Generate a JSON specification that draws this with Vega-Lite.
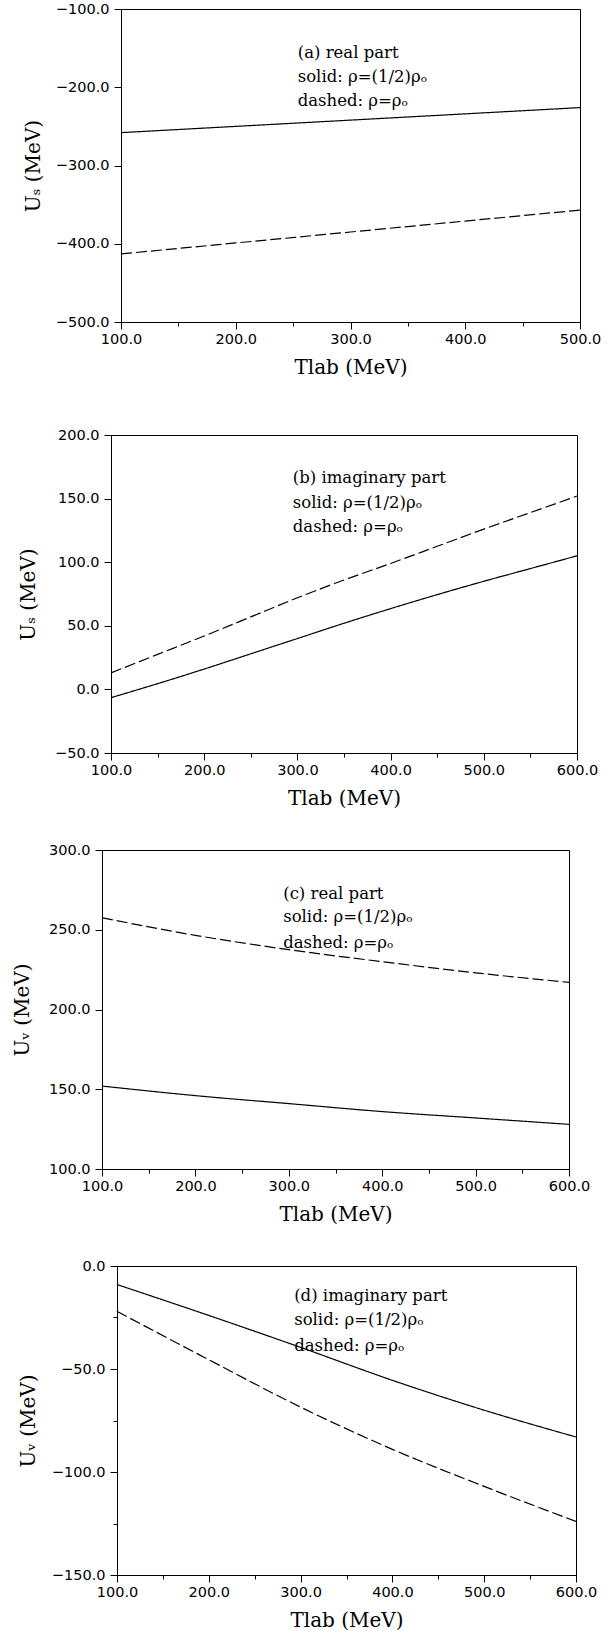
{
  "$schema": "https://vega.github.io/schema/vega-lite/v6.json",
  "padding": {"left": 0, "top": 0, "right": 0, "bottom": 0},
  "background": "white",
  "config": {
    "view": {"stroke": "black", "strokeWidth": 1},
    "axis": {
      "labelFont": "DejaVu Sans", "labelFontSize": 14.5, "labelColor": "black",
      "titleFont": "DejaVu Serif", "titleFontSize": 20, "titleFontWeight": "normal", "titleColor": "black",
      "domainColor": "black", "tickColor": "black", "grid": false,
      "labelFlush": false, "labelOverlap": false, "format": ".1f"
    },
    "axisX": {"labelPadding": 3, "titlePadding": 12},
    "axisY": {"labelPadding": 5, "minExtent": 66, "maxExtent": 66},
    "line": {"interpolate": "monotone", "color": "black", "strokeWidth": 1.2, "clip": true},
    "text": {"font": "DejaVu Serif", "fontSize": 16.5, "color": "black", "align": "left", "baseline": "middle"}
  },
  "datasets": {
    "curves": [
      {"panel": "a", "density": "half", "T": 100, "U": -258},
      {"panel": "a", "density": "half", "T": 200, "U": -250},
      {"panel": "a", "density": "half", "T": 300, "U": -242},
      {"panel": "a", "density": "half", "T": 400, "U": -234},
      {"panel": "a", "density": "half", "T": 500, "U": -226},
      {"panel": "a", "density": "full", "T": 100, "U": -413},
      {"panel": "a", "density": "full", "T": 200, "U": -399},
      {"panel": "a", "density": "full", "T": 300, "U": -385},
      {"panel": "a", "density": "full", "T": 400, "U": -371},
      {"panel": "a", "density": "full", "T": 500, "U": -357},
      {"panel": "b", "density": "half", "T": 100, "U": -6.5},
      {"panel": "b", "density": "half", "T": 150, "U": 4.5},
      {"panel": "b", "density": "half", "T": 200, "U": 16},
      {"panel": "b", "density": "half", "T": 250, "U": 28},
      {"panel": "b", "density": "half", "T": 300, "U": 40},
      {"panel": "b", "density": "half", "T": 350, "U": 52},
      {"panel": "b", "density": "half", "T": 400, "U": 63.5},
      {"panel": "b", "density": "half", "T": 450, "U": 74.5},
      {"panel": "b", "density": "half", "T": 500, "U": 85},
      {"panel": "b", "density": "half", "T": 550, "U": 95},
      {"panel": "b", "density": "half", "T": 600, "U": 105},
      {"panel": "b", "density": "full", "T": 100, "U": 13},
      {"panel": "b", "density": "full", "T": 150, "U": 27.5},
      {"panel": "b", "density": "full", "T": 200, "U": 42},
      {"panel": "b", "density": "full", "T": 250, "U": 57},
      {"panel": "b", "density": "full", "T": 300, "U": 72},
      {"panel": "b", "density": "full", "T": 350, "U": 86},
      {"panel": "b", "density": "full", "T": 400, "U": 99},
      {"panel": "b", "density": "full", "T": 450, "U": 112.5},
      {"panel": "b", "density": "full", "T": 500, "U": 126},
      {"panel": "b", "density": "full", "T": 550, "U": 139},
      {"panel": "b", "density": "full", "T": 600, "U": 152},
      {"panel": "c", "density": "half", "T": 100, "U": 152},
      {"panel": "c", "density": "half", "T": 200, "U": 146},
      {"panel": "c", "density": "half", "T": 300, "U": 141},
      {"panel": "c", "density": "half", "T": 400, "U": 136},
      {"panel": "c", "density": "half", "T": 500, "U": 132},
      {"panel": "c", "density": "half", "T": 600, "U": 128},
      {"panel": "c", "density": "full", "T": 100, "U": 257.5},
      {"panel": "c", "density": "full", "T": 200, "U": 246.5},
      {"panel": "c", "density": "full", "T": 300, "U": 237.5},
      {"panel": "c", "density": "full", "T": 400, "U": 230},
      {"panel": "c", "density": "full", "T": 500, "U": 223},
      {"panel": "c", "density": "full", "T": 600, "U": 217},
      {"panel": "d", "density": "half", "T": 100, "U": -9},
      {"panel": "d", "density": "half", "T": 200, "U": -24},
      {"panel": "d", "density": "half", "T": 300, "U": -39.5},
      {"panel": "d", "density": "half", "T": 400, "U": -55.5},
      {"panel": "d", "density": "half", "T": 500, "U": -70},
      {"panel": "d", "density": "half", "T": 600, "U": -83},
      {"panel": "d", "density": "full", "T": 100, "U": -22},
      {"panel": "d", "density": "full", "T": 200, "U": -45.5},
      {"panel": "d", "density": "full", "T": 300, "U": -68.5},
      {"panel": "d", "density": "full", "T": 400, "U": -89},
      {"panel": "d", "density": "full", "T": 500, "U": -107},
      {"panel": "d", "density": "full", "T": 600, "U": -124}
    ],
    "notes": [
      {"panel": "a", "T": 254, "U": -156, "label": "(a) real part"},
      {"panel": "a", "T": 254, "U": -187, "label": "solid: ρ=(1/2)ρₒ"},
      {"panel": "a", "T": 254, "U": -217.6, "label": "dashed: ρ=ρₒ"},
      {"panel": "b", "T": 295, "U": 166, "label": "(b) imaginary part"},
      {"panel": "b", "T": 295, "U": 146.2, "label": "solid: ρ=(1/2)ρₒ"},
      {"panel": "b", "T": 295, "U": 128, "label": "dashed: ρ=ρₒ"},
      {"panel": "c", "T": 294, "U": 272.4, "label": "(c) real part"},
      {"panel": "c", "T": 294, "U": 257.7, "label": "solid: ρ=(1/2)ρₒ"},
      {"panel": "c", "T": 294, "U": 241.8, "label": "dashed: ρ=ρₒ"},
      {"panel": "d", "T": 293, "U": -14.5, "label": "(d) imaginary part"},
      {"panel": "d", "T": 293, "U": -26.2, "label": "solid: ρ=(1/2)ρₒ"},
      {"panel": "d", "T": 293, "U": -38.6, "label": "dashed: ρ=ρₒ"}
    ]
  },
  "spacing": 48,
  "vconcat": [
    {
      "spacing": 0,
      "hconcat": [
        {"width": 22, "height": 10, "view": {"stroke": null, "fill": "white"}, "data": {"values": [{}]}, "mark": {"type": "point", "opacity": 0}, "encoding": {}},
        {
          "width": 459, "height": 313,
          "layer": [
            {
              "data": {"name": "curves"},
              "transform": [{"filter": "datum.panel === 'a'"}],
              "mark": {"type": "line"},
              "encoding": {
                "x": {"field": "T", "type": "quantitative", "title": "Tlab (MeV)",
                  "scale": {"domain": [100, 500], "nice": false, "zero": false},
                  "axis": {"values": [100,150,200,250,300,350,400,450,500], "labelExpr": "datum.value % 100 === 0 ? datum.label : ''",
                    "tickSize": {"condition": {"test": "datum.value % 100 === 0", "value": 7}, "value": 4}}},
                "y": {"field": "U", "type": "quantitative", "title": "Uₛ (MeV)",
                  "scale": {"domain": [-500, -100], "nice": false, "zero": false},
                  "axis": {"values": [-500,-450,-400,-350,-300,-250,-200,-150,-100], "titlePadding": 12, "labelExpr": "datum.value % 100 === 0 ? datum.label : ''",
                    "tickSize": {"condition": {"test": "datum.value % 100 === 0", "value": 7}, "value": 4}}},
                "strokeDash": {"field": "density", "type": "nominal", "scale": {"domain": ["half", "full"], "range": [[1, 0], [11, 4]]}, "legend": null}
              }
            },
            {
              "data": {"name": "notes"},
              "transform": [{"filter": "datum.panel === 'a'"}],
              "mark": {"type": "text"},
              "encoding": {
                "x": {"field": "T", "type": "quantitative"},
                "y": {"field": "U", "type": "quantitative"},
                "text": {"field": "label"}
              }
            }
          ]
        }
      ]
    },
    {
      "spacing": 32,
      "vconcat": [
        {
          "spacing": 0,
          "hconcat": [
            {"width": 17, "height": 10, "view": {"stroke": null, "fill": "white"}, "data": {"values": [{}]}, "mark": {"type": "point", "opacity": 0}, "encoding": {}},
            {
              "width": 466, "height": 318,
              "layer": [
                {
                  "data": {"name": "curves"},
                  "transform": [{"filter": "datum.panel === 'b'"}],
                  "mark": {"type": "line"},
                  "encoding": {
                    "x": {"field": "T", "type": "quantitative", "title": "Tlab (MeV)",
                      "scale": {"domain": [100, 600], "nice": false, "zero": false},
                      "axis": {"values": [100,150,200,250,300,350,400,450,500,550,600], "labelExpr": "datum.value % 100 === 0 ? datum.label : ''",
                        "tickSize": {"condition": {"test": "datum.value % 100 === 0", "value": 7}, "value": 4}}},
                    "y": {"field": "U", "type": "quantitative", "title": "Uₛ (MeV)",
                      "scale": {"domain": [-50, 200], "nice": false, "zero": false},
                      "axis": {"values": [-50,-25,0,25,50,75,100,125,150,175,200], "titlePadding": 7, "labelExpr": "datum.value % 50 === 0 ? datum.label : ''",
                        "tickSize": {"condition": {"test": "datum.value % 50 === 0", "value": 7}, "value": 4}}},
                    "strokeDash": {"field": "density", "type": "nominal", "scale": {"domain": ["half", "full"], "range": [[1, 0], [11, 4]]}, "legend": null}
                  }
                },
                {
                  "data": {"name": "notes"},
                  "transform": [{"filter": "datum.panel === 'b'"}],
                  "mark": {"type": "text"},
                  "encoding": {
                    "x": {"field": "T", "type": "quantitative"},
                    "y": {"field": "U", "type": "quantitative"},
                    "text": {"field": "label"}
                  }
                }
              ]
            }
          ]
        },
        {
          "spacing": 0,
          "hconcat": [
            {"width": 11, "height": 10, "view": {"stroke": null, "fill": "white"}, "data": {"values": [{}]}, "mark": {"type": "point", "opacity": 0}, "encoding": {}},
            {
              "width": 467, "height": 319,
              "layer": [
                {
                  "data": {"name": "curves"},
                  "transform": [{"filter": "datum.panel === 'c'"}],
                  "mark": {"type": "line"},
                  "encoding": {
                    "x": {"field": "T", "type": "quantitative", "title": "Tlab (MeV)",
                      "scale": {"domain": [100, 600], "nice": false, "zero": false},
                      "axis": {"values": [100,150,200,250,300,350,400,450,500,550,600], "labelExpr": "datum.value % 100 === 0 ? datum.label : ''",
                        "tickSize": {"condition": {"test": "datum.value % 100 === 0", "value": 7}, "value": 4}}},
                    "y": {"field": "U", "type": "quantitative", "title": "Uᵥ (MeV)",
                      "scale": {"domain": [100, 300], "nice": false, "zero": false},
                      "axis": {"values": [100,125,150,175,200,225,250,275,300], "titlePadding": 4, "labelExpr": "datum.value % 50 === 0 ? datum.label : ''",
                        "tickSize": {"condition": {"test": "datum.value % 50 === 0", "value": 7}, "value": 4}}},
                    "strokeDash": {"field": "density", "type": "nominal", "scale": {"domain": ["half", "full"], "range": [[1, 0], [11, 4]]}, "legend": null}
                  }
                },
                {
                  "data": {"name": "notes"},
                  "transform": [{"filter": "datum.panel === 'c'"}],
                  "mark": {"type": "text"},
                  "encoding": {
                    "x": {"field": "T", "type": "quantitative"},
                    "y": {"field": "U", "type": "quantitative"},
                    "text": {"field": "label"}
                  }
                }
              ]
            }
          ]
        },
        {
          "spacing": 0,
          "hconcat": [
            {"width": 17, "height": 10, "view": {"stroke": null, "fill": "white"}, "data": {"values": [{}]}, "mark": {"type": "point", "opacity": 0}, "encoding": {}},
            {
              "width": 459, "height": 309,
              "layer": [
                {
                  "data": {"name": "curves"},
                  "transform": [{"filter": "datum.panel === 'd'"}],
                  "mark": {"type": "line"},
                  "encoding": {
                    "x": {"field": "T", "type": "quantitative", "title": "Tlab (MeV)",
                      "scale": {"domain": [100, 600], "nice": false, "zero": false},
                      "axis": {"values": [100,150,200,250,300,350,400,450,500,550,600], "labelExpr": "datum.value % 100 === 0 ? datum.label : ''",
                        "tickSize": {"condition": {"test": "datum.value % 100 === 0", "value": 7}, "value": 4}}},
                    "y": {"field": "U", "type": "quantitative", "title": "Uᵥ (MeV)",
                      "scale": {"domain": [-150, 0], "nice": false, "zero": false},
                      "axis": {"values": [-150,-125,-100,-75,-50,-25,0], "titlePadding": 13, "labelExpr": "datum.value % 50 === 0 ? datum.label : ''",
                        "tickSize": {"condition": {"test": "datum.value % 50 === 0", "value": 7}, "value": 4}}},
                    "strokeDash": {"field": "density", "type": "nominal", "scale": {"domain": ["half", "full"], "range": [[1, 0], [11, 4]]}, "legend": null}
                  }
                },
                {
                  "data": {"name": "notes"},
                  "transform": [{"filter": "datum.panel === 'd'"}],
                  "mark": {"type": "text"},
                  "encoding": {
                    "x": {"field": "T", "type": "quantitative"},
                    "y": {"field": "U", "type": "quantitative"},
                    "text": {"field": "label"}
                  }
                }
              ]
            }
          ]
        }
      ]
    }
  ]
}
